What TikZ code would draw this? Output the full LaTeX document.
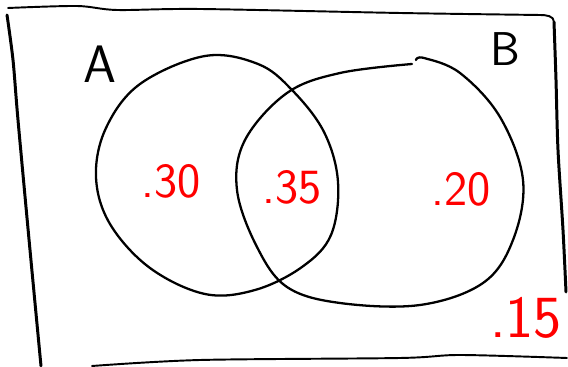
\documentclass[tikz,border=0pt]{standalone}
\usepackage{tikz}
\usetikzlibrary{positioning}
\tikzset{
  frame/.style={line width=1.7pt, line cap=round, line join=round},
  setline/.style={line width=1.3pt, line cap=round},
  setlabel/.style={font=\sffamily\fontsize{30}{30}\selectfont, inner sep=0pt},
  prob/.style={text=red, font=\sffamily\fontsize{28}{28}\selectfont, inner sep=0pt},
}

\begin{document}
\begin{tikzpicture}[x=0.02cm, y=-0.02cm]
  \useasboundingbox (0,0) rectangle (568,367);

  % Sample space (hand drawn frame)
  \draw[frame] plot[smooth] coordinates {(41,366) (30,250) (18,120) (13,60) (7,15)};
  \draw[frame, line width=1.1pt] plot[smooth] coordinates {(8,8) (77,6) (117,10) (200,9) (400,13) (540,15)}
    to[out=0, in=90] (554,22);
  \draw[frame] plot[smooth] coordinates {(554,22) (556,80) (558,150) (563,230) (566,292)};
  \draw[frame, line width=1.1pt] plot[smooth] coordinates {(92,366) (200,360) (400,358) (460,355) (567,358)};

  % Set A
  \draw[setline] plot[smooth cycle, tension=0.6] coordinates {
    (96,177) (106,128) (140,84) (205,56) (258,64) (292,90) (324,132)
    (338,182) (331,235) (302,267) (255,290) (205,294) (150,268) (110,224)};

  % Set B
  \draw[setline] plot[smooth, tension=0.6] coordinates {
    (416,60) (424,58) (460,73) (500,117) (523,180) (513,240) (483,283) (420,305)
    (340,303) (287,287) (257,247) (237,190) (245,140) (287,93) (340,73)
    (412,64)};

  % Labels
  \node[setlabel] (labA) at (100,64) {A};
  \node[setlabel, font=\sffamily\fontsize{27}{27}\selectfont] (labB) at (505,49) {B};

  % Probabilities
  \node[prob] (pA)  at (171,181) {.30};
  \node[prob] (pAB) at (292,187) {.35};
  \node[prob] (pB)  at (461,189) {.20};
  \node[prob, font=\sffamily\fontsize{34}{34}\selectfont] (pN) at (526,318) {.15};
\end{tikzpicture}
\end{document}
